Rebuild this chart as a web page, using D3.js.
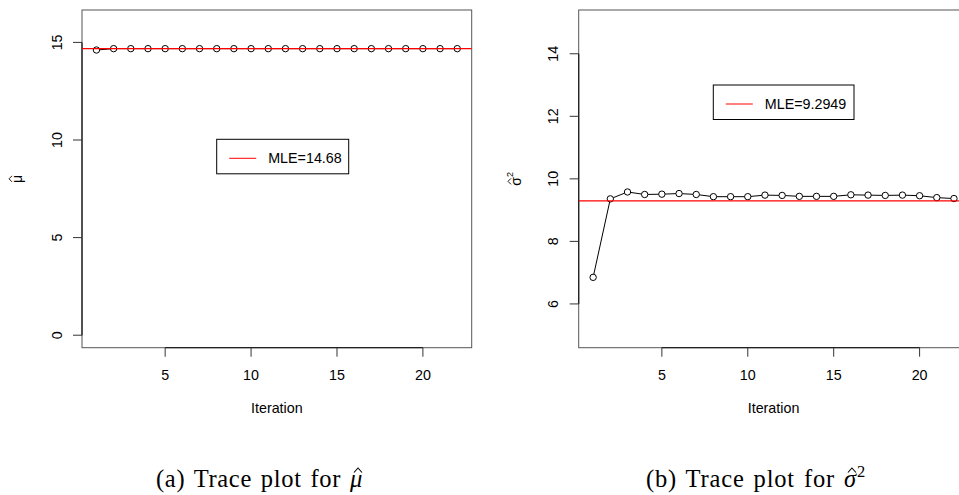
<!DOCTYPE html>
<html>
<head>
<meta charset="utf-8">
<script src="https://cdn.jsdelivr.net/npm/d3@7"></script>
<style>
  body { margin: 0; background: #fff; }
  svg { display: block; }
</style>
</head>
<body>
<div id="wrapper"></div>
<script>
// values
const iterations = [1, 2, 3, 4, 5, 6, 7, 8, 9, 10, 11, 12, 13, 14, 15, 16, 17, 18, 19, 20, 21, 22];
const muHat = [14.61, 14.68, 14.68, 14.68, 14.68, 14.68, 14.68, 14.68, 14.68, 14.68, 14.68,
  14.68, 14.68, 14.68, 14.68, 14.68, 14.68, 14.68, 14.68, 14.68, 14.68, 14.68];
const sigma2Hat = [6.85, 9.36, 9.58, 9.5, 9.51, 9.53, 9.5, 9.43, 9.43, 9.43, 9.48,
  9.47, 9.44, 9.44, 9.44, 9.49, 9.48, 9.47, 9.48, 9.46, 9.4, 9.37];
const mleMu = 14.68;
const mleSigma2 = 9.2949;
const xTicks = [5, 10, 15, 20];
const muTicks = [0, 5, 10, 15];
const sigmaTicks = [6, 8, 10, 12, 14];

function drawChart() {
  const svg = d3
    .select("#wrapper")
    .append("svg")
    .attr("width", 959)
    .attr("height", 495);

  const sans = "'Liberation Sans', Arial, sans-serif";
  const serif = "'Liberation Serif', 'Times New Roman', serif";

  // draws a circumflex over character idx of a text node (as a small path)
  function addHat(parent, textSel, idx, h) {
    const node = textSel.node();
    const s = node.getStartPositionOfChar(idx);
    const e = node.getEndPositionOfChar(idx);
    const cx = (s.x + e.x) / 2 + h.dx;
    const by = s.y;
    parent.append("path")
      .attr("d", `M${cx - h.w},${by - h.low} L${cx},${by - h.high} L${cx + h.w},${by - h.low}`)
      .attr("fill", "none")
      .attr("stroke", "#000")
      .attr("stroke-width", h.sw);
  }

  function drawPanel(p) {
    const g = svg.append("g");
    const x = d3.scaleLinear().domain([0.16, 22.84]).range([p.left, p.right]);
    const y = d3.scaleLinear().domain(p.yDomain).range([p.bottom, p.top]);

    // box
    g.append("rect")
      .attr("x", p.left)
      .attr("y", p.top)
      .attr("width", p.right - p.left)
      .attr("height", p.bottom - p.top)
      .attr("fill", "none")
      .attr("stroke", "#555")
      .attr("stroke-width", 1);

    // x axis
    g.append("line")
      .attr("x1", x(xTicks[0])).attr("x2", x(xTicks[xTicks.length - 1]))
      .attr("y1", p.bottom).attr("y2", p.bottom)
      .attr("stroke", "#222").attr("stroke-width", 1.3);
    xTicks.forEach((t) => {
      g.append("line")
        .attr("x1", x(t)).attr("x2", x(t))
        .attr("y1", p.bottom).attr("y2", p.bottom + 9)
        .attr("stroke", "#333");
      g.append("text")
        .attr("x", x(t))
        .attr("y", 380)
        .attr("text-anchor", "middle")
        .attr("font-family", sans)
        .attr("font-size", 14.3)
        .text(t);
    });

    // y axis
    g.append("line")
      .attr("x1", p.left).attr("x2", p.left)
      .attr("y1", y(p.yTicks[0])).attr("y2", y(p.yTicks[p.yTicks.length - 1]))
      .attr("stroke", "#222").attr("stroke-width", 1.3);
    p.yTicks.forEach((t) => {
      g.append("line")
        .attr("x1", p.left - 9).attr("x2", p.left)
        .attr("y1", y(t)).attr("y2", y(t))
        .attr("stroke", "#333");
      g.append("text")
        .attr("transform", `translate(${p.left - 20.5},${y(t)}) rotate(-90)`)
        .attr("text-anchor", "middle")
        .attr("font-family", sans)
        .attr("font-size", 14.3)
        .text(t);
    });

    // axis titles
    g.append("text")
      .attr("x", (p.left + p.right) / 2)
      .attr("y", 413)
      .attr("text-anchor", "middle")
      .attr("font-family", sans)
      .attr("font-size", 14.3)
      .text("Iteration");

    const ylg = g.append("g")
      .attr("transform", `translate(${p.yLabelX},${(p.top + p.bottom) / 2}) rotate(-90)`);
    const yl = ylg.append("text")
      .attr("text-anchor", "middle")
      .attr("font-family", sans)
      .attr("font-size", 14);
    yl.append("tspan").text(p.yLabel);
    if (p.yLabelSup) {
      yl.append("tspan").attr("font-size", 9).attr("dy", -8).text(p.yLabelSup);
    }
    addHat(ylg, yl, 0, { dx: 0, w: 3, low: 10, high: 13, sw: 0.9 });

    // trace
    const line = d3.line().x((d, i) => x(iterations[i])).y((d) => y(d));
    g.append("path")
      .attr("d", line(p.values))
      .attr("fill", "none")
      .attr("stroke", "#000")
      .attr("stroke-width", 1);

    g.selectAll("circle")
      .data(p.values)
      .join("circle")
      .attr("cx", (d, i) => x(iterations[i]))
      .attr("cy", (d) => y(d))
      .attr("r", 3.2)
      .attr("fill", "#fff")
      .attr("stroke", "#000")
      .attr("stroke-width", 1);

    // MLE line
    g.append("line")
      .attr("x1", p.left).attr("x2", p.right)
      .attr("y1", y(p.mle)).attr("y2", y(p.mle))
      .attr("stroke", "#f00")
      .attr("stroke-width", 1.2);

    // legend
    const lg = g.append("g").attr("transform", `translate(${p.legendX},${p.legendY})`);
    lg.append("rect")
      .attr("width", p.legendW)
      .attr("height", 34.5)
      .attr("fill", "#fff")
      .attr("stroke", "#000");
    lg.append("line")
      .attr("x1", 12.5).attr("x2", 39.5)
      .attr("y1", 19).attr("y2", 19)
      .attr("stroke", "#f00");
    lg.append("text")
      .attr("x", 51.5)
      .attr("y", 24)
      .attr("font-family", sans)
      .attr("font-size", 14.3)
      .text(p.legendText);

    // caption (serif, stretched a little to the width of the original)
    const cap = g.append("text")
      .attr("x", p.captionX)
      .attr("y", 486.5)
      .attr("text-anchor", "middle")
      .attr("font-family", serif)
      .attr("font-size", 24.5)
      .attr("word-spacing", 2);
    cap.append("tspan").text(p.captionLead);
    cap.append("tspan").attr("font-style", "italic").text(p.captionSym);
    if (p.captionSup) {
      cap.append("tspan").attr("font-size", 16.5).attr("dy", -10).text(p.captionSup);
    }
    const nChars = cap.text().length;
    const len = cap.node().getComputedTextLength();
    cap.attr("letter-spacing", Math.max(0, (p.captionW - len) / nChars));
    addHat(g, cap, p.captionLead.length, { dx: 1.5, w: 4, low: 14, high: 18.5, sw: 1.1 });
  }

  drawPanel({
    left: 82, right: 471.7, top: 10, bottom: 347.7,
    yDomain: [-0.64, 16.66], yTicks: muTicks,
    values: muHat, mle: mleMu,
    yLabel: "\u03bc", yLabelX: 22,
    legendX: 216.7, legendY: 139.3, legendW: 132,
    legendText: "MLE=" + mleMu,
    captionX: 259.5, captionW: 207,
    captionLead: "(a) Trace plot for ", captionSym: "\u03bc",
  });

  drawPanel({
    left: 578.7, right: 968.4, top: 10, bottom: 347.7,
    yDomain: [4.6, 15.4], yTicks: sigmaTicks,
    values: sigma2Hat, mle: mleSigma2,
    yLabel: "\u03c3", yLabelSup: "2", yLabelX: 521,
    legendX: 713.3, legendY: 85, legendW: 140.7,
    legendText: "MLE=" + mleSigma2,
    captionX: 756, captionW: 220,
    captionLead: "(b) Trace plot for ", captionSym: "\u03c3", captionSup: "2",
  });
}

drawChart();
</script>
</body>
</html>
